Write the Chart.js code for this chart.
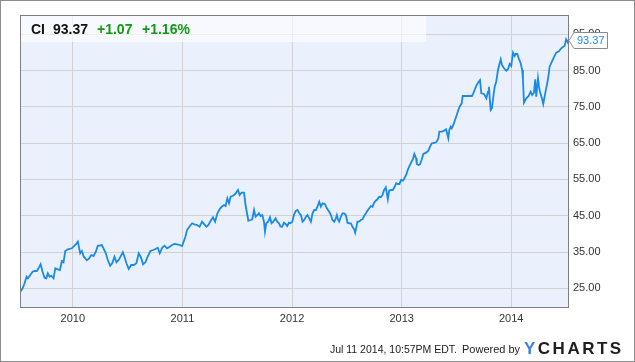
<!DOCTYPE html>
<html>
<head>
<meta charset="utf-8">
<script src="https://cdn.jsdelivr.net/npm/chart.js@4.4.1/dist/chart.umd.min.js"></script>
<style>
  html, body { margin: 0; padding: 0; background: #fff; }
  canvas { display: block; }
</style>
</head>
<body>
<canvas id="ciChart" width="635" height="362"></canvas>
<script>
// CI weekly close (decimal year, price)
const dates = [
  2009.521, 2009.542, 2009.560, 2009.578, 2009.590, 2009.612, 2009.633, 2009.651, 2009.672, 2009.687,
  2009.706, 2009.724, 2009.742, 2009.758, 2009.772, 2009.788, 2009.803, 2009.824, 2009.840, 2009.863,
  2009.882, 2009.900, 2009.915, 2009.931, 2009.954, 2009.991, 2010.027, 2010.046, 2010.067, 2010.082,
  2010.100, 2010.128, 2010.149, 2010.168, 2010.189, 2010.210, 2010.228, 2010.250, 2010.264, 2010.280,
  2010.301, 2010.319, 2010.341, 2010.359, 2010.380, 2010.398, 2010.419, 2010.435, 2010.456, 2010.471,
  2010.489, 2010.510, 2010.532, 2010.556, 2010.580, 2010.601, 2010.623, 2010.641, 2010.662, 2010.683,
  2010.708, 2010.733, 2010.754, 2010.775, 2010.793, 2010.815, 2010.836, 2010.860, 2010.884, 2010.906,
  2010.927, 2010.951, 2010.975, 2010.997, 2011.011, 2011.027, 2011.042, 2011.063, 2011.088, 2011.109,
  2011.134, 2011.157, 2011.179, 2011.200, 2011.219, 2011.237, 2011.258, 2011.279, 2011.298, 2011.319,
  2011.339, 2011.358, 2011.380, 2011.394, 2011.410, 2011.425, 2011.440, 2011.455, 2011.471, 2011.486,
  2011.507, 2011.522, 2011.540, 2011.562, 2011.576, 2011.592, 2011.601, 2011.622, 2011.637, 2011.653,
  2011.667, 2011.683, 2011.698, 2011.713, 2011.729, 2011.744, 2011.753, 2011.765, 2011.783, 2011.799,
  2011.813, 2011.829, 2011.850, 2011.865, 2011.881, 2011.895, 2011.911, 2011.926, 2011.941, 2011.956,
  2011.972, 2011.986, 2012.002, 2012.017, 2012.034, 2012.050, 2012.066, 2012.081, 2012.096, 2012.111,
  2012.127, 2012.141, 2012.157, 2012.172, 2012.187, 2012.202, 2012.218, 2012.232, 2012.248, 2012.263,
  2012.278, 2012.300, 2012.318, 2012.339, 2012.355, 2012.369, 2012.385, 2012.400, 2012.409, 2012.421,
  2012.430, 2012.446, 2012.460, 2012.476, 2012.491, 2012.506, 2012.521, 2012.537, 2012.551, 2012.567,
  2012.576, 2012.588, 2012.597, 2012.612, 2012.628, 2012.642, 2012.658, 2012.674, 2012.688, 2012.704,
  2012.719, 2012.734, 2012.749, 2012.764, 2012.779, 2012.795, 2012.810, 2012.825, 2012.840, 2012.856,
  2012.874, 2012.886, 2012.901, 2012.919, 2012.934, 2012.950, 2012.965, 2012.980, 2012.995, 2013.011,
  2013.022, 2013.041, 2013.056, 2013.071, 2013.086, 2013.102, 2013.116, 2013.132, 2013.138, 2013.153,
  2013.168, 2013.184, 2013.198, 2013.223, 2013.244, 2013.259, 2013.275, 2013.305, 2013.320, 2013.335,
  2013.344, 2013.366, 2013.387, 2013.405, 2013.426, 2013.435, 2013.448, 2013.457, 2013.472, 2013.487,
  2013.503, 2013.517, 2013.533, 2013.548, 2013.557, 2013.587, 2013.618, 2013.642, 2013.654, 2013.672,
  2013.685, 2013.703, 2013.715, 2013.727, 2013.752, 2013.773, 2013.788, 2013.797, 2013.806, 2013.813,
  2013.824, 2013.833, 2013.849, 2013.863, 2013.879, 2013.894, 2013.904, 2013.915, 2013.934, 2013.955,
  2013.970, 2013.986, 2014.000, 2014.016, 2014.031, 2014.040, 2014.055, 2014.068, 2014.086, 2014.100,
  2014.107, 2014.116, 2014.137, 2014.159, 2014.177, 2014.191, 2014.207, 2014.219, 2014.228, 2014.244,
  2014.253, 2014.262, 2014.280, 2014.292, 2014.310, 2014.328, 2014.341, 2014.350, 2014.371, 2014.389,
  2014.410, 2014.435, 2014.456, 2014.474, 2014.487, 2014.501, 2014.517, 2014.527
];
const prices = [
  24.06, 25.00, 26.38, 28.20, 27.75, 28.66, 29.57, 29.77, 29.77, 30.51,
  31.61, 29.57, 27.92, 27.75, 29.13, 28.20, 28.47, 27.75, 30.51, 30.23,
  30.04, 32.52, 32.16, 35.28, 35.74, 36.02, 37.12, 37.84, 34.64, 35.28,
  33.71, 32.71, 33.26, 34.17, 33.90, 35.08, 36.74, 36.74, 36.93, 36.02,
  34.64, 32.80, 31.23, 31.89, 33.71, 32.16, 32.80, 33.71, 34.92, 33.71,
  31.89, 30.32, 31.42, 31.42, 31.89, 34.64, 33.43, 31.61, 32.16, 33.71,
  35.28, 35.55, 35.83, 36.18, 34.64, 36.18, 36.74, 36.02, 36.46, 36.93,
  37.20, 37.12, 36.93, 36.65, 37.84, 39.21, 41.06, 41.97, 42.91, 42.63,
  42.44, 41.97, 43.35, 42.63, 41.97, 42.44, 43.62, 44.56, 43.35, 45.66,
  46.76, 47.48, 47.95, 47.67, 49.79, 48.42, 50.24, 50.43, 50.70, 51.17,
  52.08, 50.70, 51.34, 51.34, 47.95, 45.19, 43.62, 43.82, 44.01, 46.57,
  44.72, 45.19, 45.66, 44.92, 45.19, 43.35, 40.59, 42.91, 43.35, 44.56,
  42.91, 43.35, 44.28, 43.35, 42.91, 41.97, 41.97, 43.07, 42.71, 42.16,
  43.07, 42.91, 43.35, 45.19, 46.30, 46.57, 45.66, 45.19, 43.35, 43.82,
  44.72, 45.19, 44.28, 43.35, 45.66, 46.57, 46.57, 47.48, 48.86, 47.48,
  48.42, 48.22, 47.04, 46.10, 45.19, 43.82, 43.35, 44.28, 45.19, 43.82,
  43.35, 44.72, 45.66, 45.66, 45.19, 43.07, 42.91, 42.91, 41.97, 41.25,
  40.32, 41.97, 43.35, 43.35, 43.82, 44.01, 44.92, 45.66, 46.38, 47.04,
  47.67, 47.48, 48.58, 49.13, 49.52, 50.23, 50.07, 50.70, 52.08, 52.82,
  49.52, 51.89, 52.08, 52.08, 52.82, 53.93, 53.73, 53.73, 54.83, 54.64,
  55.11, 56.21, 57.59, 58.69, 59.60, 60.54, 62.00, 60.81, 59.24, 58.97,
  59.16, 60.54, 62.00, 62.36, 62.91, 64.01, 64.94, 65.11, 65.39, 66.32,
  68.14, 68.14, 68.42, 68.80, 66.32, 68.61, 69.52, 69.08, 69.99, 71.36,
  72.74, 74.12, 75.22, 75.96, 77.98, 77.98, 77.98, 77.98, 78.72, 80.10,
  81.01, 81.92, 82.38, 78.72, 78.53, 77.34, 79.16, 80.54, 76.41, 74.12,
  74.59, 76.87, 80.54, 81.92, 85.14, 86.99, 88.09, 86.52, 85.61, 84.95,
  85.33, 86.79, 86.24, 89.91, 88.99, 89.55, 89.55, 88.36, 86.99, 85.14,
  82.38, 76.13, 77.34, 77.98, 79.16, 78.25, 78.88, 82.58, 77.78, 82.85,
  80.54, 79.16, 77.34, 75.78, 78.72, 81.47, 83.76, 86.05, 87.42, 88.64,
  89.91, 90.29, 91.12, 91.56, 91.75, 93.60, 92.66, 93.37
];
const yearTicks = [2010, 2011, 2012, 2013, 2014];
const priceTicks = [25, 35, 45, 55, 65, 75, 85, 95];

const symbol = 'CI';
const lastPrice = '93.37';
const change = '+1.07';
const changePct = '+1.16%';
const stamp = 'Jul 11 2014, 10:57PM EDT.';
const powered = 'Powered by';

const FONT = '"Liberation Sans", Arial, sans-serif';
const LINE_BLUE = '#1a8ae8';

const frame = {
  id: 'frame',
  beforeDraw(chart) {
    const { ctx, chartArea: a } = chart;
    ctx.save();
    ctx.fillStyle = '#eaf1fc';
    ctx.fillRect(a.left, a.top, a.right - a.left, a.bottom - a.top);
    ctx.restore();
  },
  afterDraw(chart) {
    const { ctx, chartArea: a } = chart;
    ctx.save();

    // header strip with quote
    ctx.fillStyle = 'rgba(255,255,255,0.6)';
    ctx.fillRect(a.left, a.top, 406, 27);
    ctx.font = 'bold 14px ' + FONT;
    ctx.textBaseline = 'alphabetic';
    ctx.fillStyle = '#111';
    ctx.fillText(symbol, 31, 34);
    ctx.fillText(lastPrice, 53, 34);
    ctx.fillStyle = '#119a11';
    ctx.fillText(change, 97, 34);
    ctx.fillText(changePct, 142, 34);

    // plot border
    ctx.strokeStyle = '#7f7f7f';
    ctx.lineWidth = 1;
    ctx.strokeRect(a.left + 0.5, a.top + 0.5, a.right - a.left - 1, a.bottom - a.top);

    // last price flag
    const y = Math.round(chart.scales.y.getPixelForValue(prices[prices.length - 1])) + 0.5;
    const x0 = a.right;
    ctx.beginPath();
    ctx.moveTo(x0, y);
    ctx.lineTo(x0 + 5, y - 8);
    ctx.lineTo(x0 + 38.5, y - 8);
    ctx.lineTo(x0 + 38.5, y + 8);
    ctx.lineTo(x0 + 5, y + 8);
    ctx.closePath();
    ctx.fillStyle = '#fff';
    ctx.fill();
    ctx.strokeStyle = '#8a8a8a';
    ctx.stroke();
    ctx.font = '11px ' + FONT;
    ctx.textBaseline = 'middle';
    ctx.fillStyle = LINE_BLUE;
    ctx.fillText(lastPrice, x0 + 8, y + 0.5);

    // footer
    ctx.textBaseline = 'alphabetic';
    ctx.fillStyle = '#222';
    ctx.font = '10.5px ' + FONT;
    ctx.textAlign = 'right';
    ctx.fillText(stamp, 457, 353);
    ctx.textAlign = 'left';
    ctx.font = '11px ' + FONT;
    ctx.fillText(powered, 462, 353);
    ctx.font = 'bold 17px ' + FONT;
    ctx.letterSpacing = '2.5px';
    ctx.fillStyle = '#3f7fe6';
    ctx.fillText('Y', 524, 354);
    const yw = ctx.measureText('Y').width;
    ctx.fillStyle = '#1e1e1e';
    ctx.fillText('CHARTS', 524 + yw, 354);
    ctx.letterSpacing = '0px';

    // outer frame
    ctx.strokeStyle = '#8c8c8c';
    ctx.strokeRect(0.5, 0.5, chart.width - 1, chart.height - 1);
    ctx.restore();
  }
};

new Chart(document.getElementById('ciChart'), {
  type: 'line',
  data: {
    datasets: [{
      label: symbol,
      data: dates.map((d, i) => ({ x: d, y: prices[i] })),
      borderColor: LINE_BLUE,
      borderWidth: 1.8,
      pointRadius: 0,
      tension: 0,
      fill: false
    }]
  },
  options: {
    responsive: false,
    animation: false,
    layout: { padding: { left: 20, top: 15, right: 0, bottom: 0 } },
    plugins: { legend: { display: false }, tooltip: { enabled: false } },
    scales: {
      x: {
        type: 'linear',
        min: 2009.518,
        max: 2014.527,
        afterBuildTicks: s => { s.ticks = yearTicks.map(v => ({ value: v })); },
        afterFit: s => { s.height = 55; },
        grid: { color: '#d2d2d2', drawTicks: false },
        border: { display: false },
        ticks: {
          padding: 5,
          maxRotation: 0,
          color: '#333',
          font: { family: FONT, size: 11 },
          callback: v => String(v)
        }
      },
      y: {
        position: 'right',
        min: 19.85,
        max: 100.29,
        afterBuildTicks: s => { s.ticks = priceTicks.map(v => ({ value: v })); },
        afterFit: s => { s.width = 66; },
        grid: { color: '#d2d2d2', drawTicks: false },
        border: { display: false },
        ticks: {
          padding: 4,
          color: '#333',
          font: { family: FONT, size: 11 },
          callback: v => v.toFixed(2)
        }
      }
    }
  },
  plugins: [frame]
});
</script>
</body>
</html>
